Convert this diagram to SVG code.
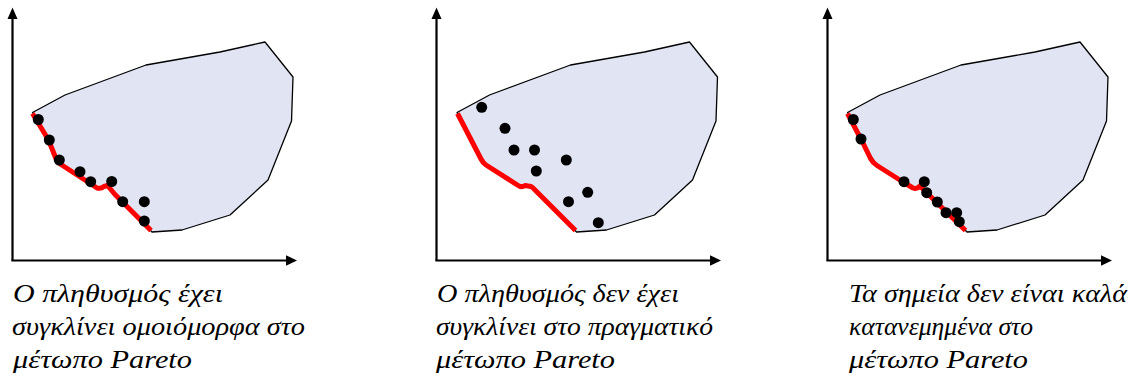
<svg xmlns="http://www.w3.org/2000/svg" width="1133" height="379" viewBox="0 0 1133 379">
<g id="connectors"></g>

<g id="panel1">
<g stroke="#000" stroke-width="2.2" fill="none">
<line x1="12.5" y1="17" x2="12.5" y2="260.5"/>
<line x1="11.4" y1="260.5" x2="287" y2="260.5"/>
</g>
<polygon fill="#000" points="12.5,7.5 7.5,19 17.5,19"/>
<polygon fill="#000" points="297,260.5 286,255.3 286,265.7"/>
<path fill="#e0e4f3" stroke="#000" stroke-width="1.3" stroke-linejoin="round" d="M32.5,112.5 L65,95 L146,65 L220,52 L265,42 L293,77 L291.5,121 L268,180 L230,215 L182,230 L152,232 L115,194.5 L107.5,185.5 L97,188 L61,164.5 L48.5,140 Z"/>
<path fill="none" stroke="#ff0000" stroke-width="5" stroke-linejoin="round" d="M32.5,113.5 L48.5,140 L56.5,160 Q58,163 61,164.5 L91,184 L97,188 Q101,189 104,186.5 L107.5,185.5 L115,194.5 L151,230.5"/>
<g fill="#000">
<circle cx="38.3" cy="119.5" r="5.5"/>
<circle cx="49.3" cy="140" r="5.5"/>
<circle cx="59.3" cy="160" r="5.5"/>
<circle cx="80" cy="171.7" r="5.5"/>
<circle cx="90.7" cy="181.7" r="5.5"/>
<circle cx="111.7" cy="181.5" r="5.5"/>
<circle cx="122.7" cy="201.7" r="5.5"/>
<circle cx="144.3" cy="201.7" r="5.5"/>
<circle cx="144.3" cy="221" r="5.5"/>
</g>
</g>

<g id="panel2">
<g stroke="#000" stroke-width="2.2" fill="none">
<line x1="436.5" y1="17" x2="436.5" y2="260.5"/>
<line x1="435.4" y1="260.5" x2="711" y2="260.5"/>
</g>
<polygon fill="#000" points="436.5,7.5 431.5,19 441.5,19"/>
<polygon fill="#000" points="721,260.5 710,255.3 710,265.7"/>
<path fill="#e0e4f3" stroke="#000" stroke-width="1.3" stroke-linejoin="round" d="M457,112.5 L489.5,95 L570.5,65 L644.5,52 L689.5,42 L717.5,77 L716,121 L692.5,180 L654.5,215 L606.5,230 L576.5,232 L535,190 L531,186.5 L525,185.5 L519,186 L486,165 L481,159 Z"/>
<path fill="none" stroke="#ff0000" stroke-width="5" stroke-linejoin="round" d="M457.5,113.5 L481,159 Q483,163 486,165 L519,186 Q522,187.5 525,185.5 L531,186.5 Q533,187.5 535,190 L575.5,230.5"/>
<g fill="#000">
<circle cx="481.7" cy="107.3" r="5.5"/>
<circle cx="505" cy="128.3" r="5.5"/>
<circle cx="514" cy="150" r="5.5"/>
<circle cx="534.5" cy="150" r="5.5"/>
<circle cx="536.3" cy="171" r="5.5"/>
<circle cx="566.3" cy="160" r="5.5"/>
<circle cx="587.7" cy="192.3" r="5.5"/>
<circle cx="568.5" cy="201.7" r="5.5"/>
<circle cx="598.3" cy="222.7" r="5.5"/>
</g>
</g>

<g id="panel3">
<g stroke="#000" stroke-width="2.2" fill="none">
<line x1="827.5" y1="17" x2="827.5" y2="260.5"/>
<line x1="826.4" y1="260.5" x2="1102" y2="260.5"/>
</g>
<polygon fill="#000" points="827.5,7.5 822.5,19 832.5,19"/>
<polygon fill="#000" points="1112,260.5 1101,255.3 1101,265.7"/>
<path fill="#e0e4f3" stroke="#000" stroke-width="1.3" stroke-linejoin="round" d="M847.5,112.5 L880,95 L961,65 L1035,52 L1080,42 L1108,77 L1106.5,121 L1083,180 L1045,215 L997,230 L967,232 L927,193 L920,186 L913,188 L877,165.5 L863,143 Z"/>
<path fill="none" stroke="#ff0000" stroke-width="5" stroke-linejoin="round" d="M847.5,113.5 L863,143 L870.5,158.5 Q873,163 877,165.5 L903,182 L913,188 Q917,189.5 920,186 L927,193 L965.5,230.5"/>
<g fill="#000">
<circle cx="853.3" cy="119.5" r="5.5"/>
<circle cx="861" cy="139" r="5.5"/>
<circle cx="904" cy="181.7" r="5.5"/>
<circle cx="924.3" cy="181.7" r="5.5"/>
<circle cx="926.7" cy="192.7" r="5.5"/>
<circle cx="937.3" cy="202" r="5.5"/>
<circle cx="946" cy="212.7" r="5.5"/>
<circle cx="956.7" cy="212.7" r="5.5"/>
<circle cx="959.3" cy="221.7" r="5.5"/>
</g>
</g>

<g id="captions" xml:lang="el" font-family="Times New Roman, Liberation Serif, serif" font-size="26" font-style="italic" fill="#000">
<text x="13" y="302" textLength="210" lengthAdjust="spacingAndGlyphs">Ο πληθυσμός έχει</text>
<text x="12" y="335" textLength="293" lengthAdjust="spacingAndGlyphs">συγκλίνει ομοιόμορφα στο</text>
<text x="13" y="368" textLength="179" lengthAdjust="spacingAndGlyphs">μέτωπο Pareto</text>
<text x="437" y="302" textLength="242" lengthAdjust="spacingAndGlyphs">Ο πληθυσμός δεν έχει</text>
<text x="436" y="335" textLength="277" lengthAdjust="spacingAndGlyphs">συγκλίνει στο πραγματικό</text>
<text x="436" y="368" textLength="179" lengthAdjust="spacingAndGlyphs">μέτωπο Pareto</text>
<text x="849" y="302" textLength="278" lengthAdjust="spacingAndGlyphs">Τα σημεία δεν είναι καλά</text>
<text x="849" y="335" textLength="184" lengthAdjust="spacingAndGlyphs">κατανεμημένα στο</text>
<text x="849" y="368" textLength="179" lengthAdjust="spacingAndGlyphs">μέτωπο Pareto</text>
</g>
</svg>
